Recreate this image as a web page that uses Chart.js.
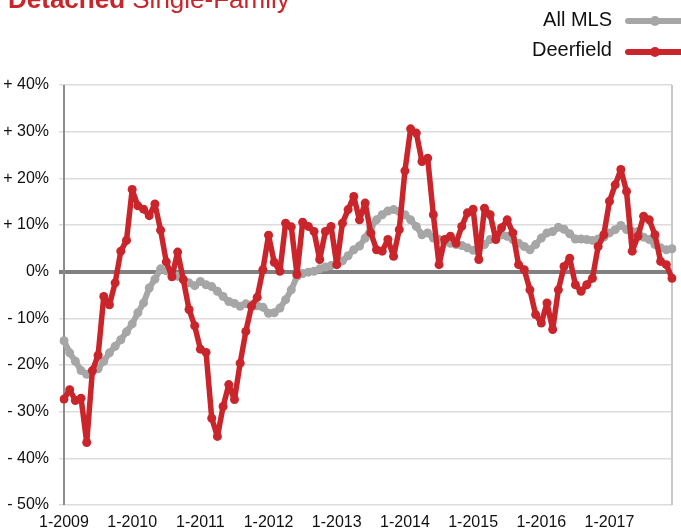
<!DOCTYPE html>
<html>
<head>
<meta charset="utf-8">
<script src="https://cdn.jsdelivr.net/npm/chart.js@4.4.1/dist/chart.umd.min.js"></script>
<style>
  html, body { margin: 0; padding: 0; background: #fff; }
  #wrap { position: relative; width: 681px; height: 531px; overflow: hidden; font-family: "Liberation Sans", Arial, sans-serif; }
  #c { position: absolute; left: 0; top: 0; }
  .title { position: absolute; left: 8px; top: -16px; font-size: 26px; color: #c9252b; white-space: nowrap; }
  .title b { font-weight: bold; }
  .leg { position: absolute; font-size: 20px; color: #111; white-space: nowrap; text-align: right; width: 200px; }
</style>
</head>
<body>
<div id="wrap">
  <canvas id="c" width="681" height="531"></canvas>
  <div class="title"><b>Detached</b> Single-Family</div>
  <div class="leg" id="leg1" style="left:412px; top:8px;">All MLS</div>
  <div class="leg" id="leg2" style="left:412px; top:38px;">Deerfield</div>
</div>
<script>
// ---- data ----
const years = [2009, 2010, 2011, 2012, 2013, 2014, 2015, 2016, 2017];
const months = [];
for (const y of years) { for (let m = 1; m <= 12; m++) months.push(m + '-' + y); }

const allMLS = [
  -14.8, -17.4, -19.2, -21.2, -22.0, -21.4, -20.8, -19.2, -17.4, -16.0, -14.6, -12.9,
  -11.2, -8.8, -6.7, -3.5, -1.6, 0.6, 0.2, -0.5, -1.0, -1.7, -2.4, -3.0,
  -2.1, -2.8, -3.2, -4.2, -5.3, -6.4, -6.8, -7.4, -6.9, -7.1, -7.3, -7.6,
  -8.9, -8.8, -7.8, -6.0, -3.9, -1.0, -0.4, -0.1, 0.1, 0.6, 1.0, 1.3,
  1.6, 2.3, 3.4, 4.7, 5.5, 7.2, 9.5, 11.1, 12.2, 13.0, 13.3, 12.9,
  12.2, 11.1, 9.7, 7.9, 8.3, 7.2, 6.9, 6.5, 6.1, 5.8, 5.6, 5.1,
  4.6, 5.1, 5.8, 6.9, 7.6, 7.9, 7.6, 6.9, 6.1, 5.4, 4.7, 5.8,
  7.2, 8.3, 8.6, 9.5, 9.1, 8.1, 7.0, 7.0, 6.9, 6.7, 7.0, 7.4,
  8.3, 9.0, 9.9, 9.0, 8.6, 8.6, 7.4, 6.9, 5.8, 5.1, 4.7, 4.9
];

const deerfield = [
  -27.3, -25.3, -27.6, -27.1, -36.6, -21.2, -17.9, -5.3, -7.1, -2.4, 4.4, 6.7,
  17.6, 14.1, 13.4, 12.0, 14.5, 8.9, 2.1, -1.1, 4.2, -1.7, -8.1, -11.6,
  -16.6, -17.3, -31.4, -35.3, -28.9, -24.2, -27.4, -19.6, -12.8, -7.4, -5.5, 0.4,
  7.8, 2.0, 0.1, 10.4, 9.6, -0.6, 10.6, 9.7, 8.6, 2.6, 8.6, 9.7,
  1.5, 10.4, 13.3, 16.1, 11.1, 14.7, 8.3, 4.7, 4.4, 6.9, 3.3, 9.0,
  21.6, 30.6, 29.7, 23.6, 24.3, 12.2, 1.5, 6.9, 7.6, 6.1, 9.7, 12.6,
  13.4, 2.6, 13.6, 12.2, 6.9, 9.4, 11.1, 8.3, 1.5, 0.4, -3.9, -9.2,
  -11.0, -6.7, -12.4, -3.9, 1.1, 2.9, -2.8, -4.2, -2.8, -1.4, 5.4, 7.9,
  15.1, 18.6, 21.9, 17.2, 4.4, 7.6, 11.9, 11.1, 7.9, 2.2, 1.5, -1.4
];

const seriesNames = ['All MLS', 'Deerfield'];
const yMin = -50, yMax = 40, yStep = 10;

const RED = '#c9252b';
const GRAY = '#a6a6a6';
const FONT = '"Liberation Sans", Arial, sans-serif';

// custom legend samples drawn on canvas
const legendSamples = {
  id: 'legendSamples',
  afterDraw(chart) {
    const ctx = chart.ctx;
    const items = [{ c: GRAY, y: 21 }, { c: RED, y: 52 }];
    ctx.save();
    for (const it of items) {
      ctx.strokeStyle = it.c;
      ctx.lineWidth = 6;
      ctx.lineCap = 'round';
      ctx.beginPath();
      ctx.moveTo(628, it.y);
      ctx.lineTo(690, it.y);
      ctx.stroke();
      ctx.fillStyle = it.c;
      ctx.beginPath();
      ctx.arc(655, it.y, 5, 0, Math.PI * 2);
      ctx.fill();
    }
    ctx.restore();
  }
};

// left axis + right border lines
const borders = {
  id: 'borders',
  beforeDatasetsDraw(chart) {
    const { ctx, chartArea: a } = chart;
    ctx.save();
    ctx.strokeStyle = '#c8c8c8';
    ctx.lineWidth = 2;
    ctx.beginPath();
    ctx.moveTo(a.right, a.top);
    ctx.lineTo(a.right, a.bottom);
    ctx.stroke();
    ctx.strokeStyle = '#8c8c8c';
    ctx.lineWidth = 2;
    ctx.beginPath();
    ctx.moveTo(a.left, a.top);
    ctx.lineTo(a.left, a.bottom);
    ctx.stroke();
    ctx.restore();
  }
};

new Chart(document.getElementById('c'), {
  type: 'line',
  data: {
    labels: months,
    datasets: [
      {
        label: seriesNames[1],
        data: deerfield,
        borderColor: RED,
        backgroundColor: RED,
        borderWidth: 5.5,
        borderJoinStyle: 'round',
        borderCapStyle: 'round',
        pointRadius: 4.5,
        pointBorderWidth: 0,
        pointBackgroundColor: RED,
        tension: 0,
        order: 0
      },
      {
        label: seriesNames[0],
        data: allMLS,
        borderColor: GRAY,
        backgroundColor: GRAY,
        borderWidth: 6,
        borderJoinStyle: 'round',
        borderCapStyle: 'round',
        pointRadius: 4.5,
        pointBorderWidth: 0,
        pointBackgroundColor: GRAY,
        tension: 0,
        order: 1
      }
    ]
  },
  options: {
    responsive: false,
    animation: false,
    devicePixelRatio: 1,
    layout: { padding: { top: 85, right: 9, left: 0, bottom: 0 } },
    plugins: {
      legend: { display: false },
      title: { display: false },
      tooltip: { enabled: false }
    },
    scales: {
      x: {
        type: 'category',
        offset: false,
        afterFit(scale) { scale.height = 26; },
        border: { display: false },
        grid: {
          drawTicks: false,
          color: (c) => (c.index % 12 === 0 && c.index !== 0) ? '#dcdcdc' : 'transparent',
          lineWidth: 1.5
        },
        ticks: {
          autoSkip: false,
          maxRotation: 0,
          minRotation: 0,
          padding: 8,
          color: '#111',
          font: { family: FONT, size: 16 },
          callback: function (v, i) { return i % 12 === 0 ? months[i] : null; }
        }
      },
      y: {
        min: yMin,
        max: yMax,
        afterFit(scale) { scale.width = 64; },
        border: { display: false },
        grid: {
          drawTicks: true,
          tickLength: 5,
          color: (c) => c.tick && c.tick.value === 0 ? '#808080' : '#dcdcdc',
          lineWidth: (c) => c.tick && c.tick.value === 0 ? 4 : 1.5
        },
        ticks: {
          stepSize: yStep,
          padding: 10,
          color: '#111',
          font: { family: FONT, size: 16 },
          callback: (v) => v > 0 ? '+ ' + v + '%' : (v < 0 ? '- ' + (-v) + '%' : '0%')
        }
      }
    }
  },
  plugins: [borders, legendSamples]
});
</script>
</body>
</html>
